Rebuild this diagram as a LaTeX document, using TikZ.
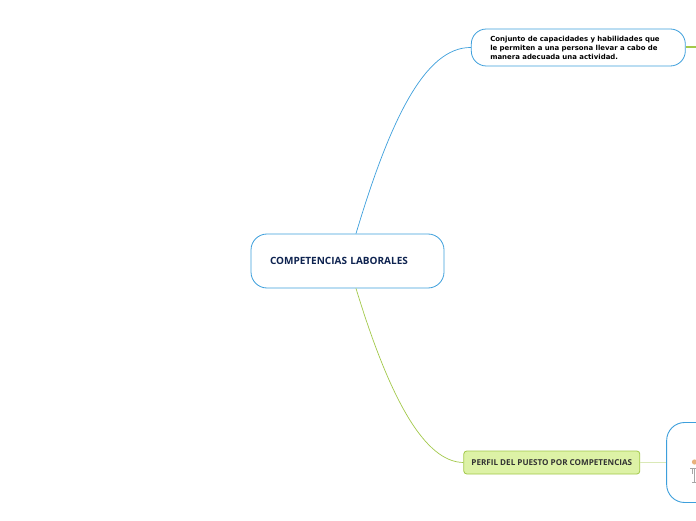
\documentclass[tikz,border=0pt]{standalone}
\usepackage{fontspec}
\setmainfont{Open Sans}
\newfontfamily\detailfont{DejaVu Sans}
\usepackage{xcolor}
\usepackage{tikz}
\usetikzlibrary{positioning, calc}
\definecolor{mapblue}{HTML}{3D9FDC}
\definecolor{mapgreen}{HTML}{A3C94A}
\definecolor{mapnavy}{HTML}{0E2350}
\definecolor{mapfill}{HTML}{DDF2A6}

\begin{document}
\begin{tikzpicture}[
  x=1pt, y=1pt,
  hub/.style={draw=mapblue, rounded corners=16pt, fill=white, line width=0.8pt,
              minimum width=193pt, minimum height=54pt, inner xsep=19pt,
              text width=155pt, align=left, text height=7.1pt, text depth=0pt,
              text=mapnavy, font=\fontsize{10}{12}\selectfont\bfseries},
  note/.style={draw=mapblue, rounded corners=15pt, fill=white, line width=0.8pt,
               minimum width=214pt, minimum height=37pt, inner xsep=19pt,
               text width=176pt, align=left, font=\detailfont\fontsize{6.95}{9}\selectfont\bfseries},
  perfil/.style={draw=mapgreen, rounded corners=3pt, fill=mapfill, line width=0.8pt,
                 minimum width=176pt, minimum height=23pt, align=center,
                 text height=5.8pt, text depth=0pt,
                 text=black!80, font=\fontsize{8.1}{9}\selectfont\bfseries},
  cuadro/.style={draw=mapblue, rounded corners=18pt, fill=white, line width=0.9pt,
                 minimum width=100pt, minimum height=80pt},
  linkb/.style={draw=mapblue, line width=0.7pt},
  linkg/.style={draw=mapgreen, line width=0.7pt},
]
\path[use as bounding box, clip] (0,0) rectangle (696,520);
\fill[white] (0,0) rectangle (696,520);
\node[hub] (comp) at (347.5,259) {COMPETENCIAS LABORALES};
\node[note, right=26.5pt of comp, yshift=213.5pt] (conj)
  {Conjunto de capacidades y habilidades que\\le permiten a una persona llevar a cabo de\\manera adecuada una actividad.};
\node[perfil, right=19pt of comp, yshift=-201.5pt] (puesto) {PERFIL DEL PUESTO POR COMPETENCIAS};
\node[cuadro, right=26pt of puesto] (imagen) {};
\coordinate[right=11pt of conj] (salida);
\draw[linkb] (comp.north) ++(8.5,0) .. controls (390,400) and (425,473) .. (conj.west);
\draw[linkg] (comp.south) ++(8.5,0) .. controls (390,120) and (425,58) .. (puesto.west);
\draw[draw=mapgreen, line width=2pt] (conj.east) -- (salida);
\draw[draw=mapgreen!40, line width=1pt] (puesto) -- (imagen);
% figura
\fill[orange!40!brown!60] (694.5,58) circle (2.6);
\draw[black!35, line width=0.8pt] (690,52) -- (696,52) (692,52) -- (692,46) (694,52) -- (694,38) (696,38) -- (692,38);
\end{tikzpicture}
\end{document}
